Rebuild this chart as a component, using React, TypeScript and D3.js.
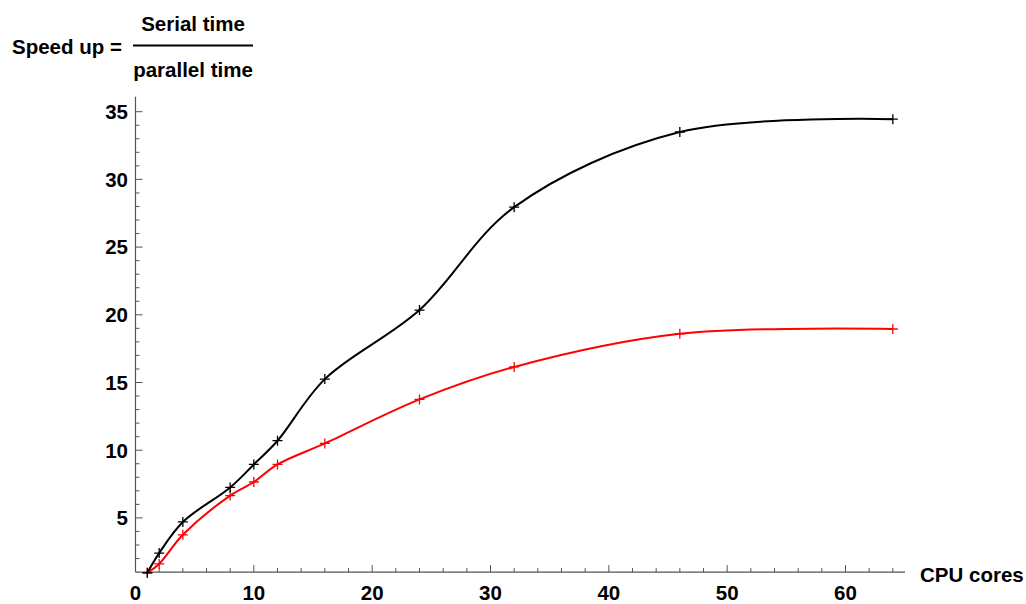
import React, { useRef, useEffect } from 'react';
import * as d3 from 'd3';

// ==================== DATA ====================
const CORES = [1, 2, 4, 8, 10, 12, 16, 24, 32, 46, 64];
const SPEEDUP_BLACK = [0.95, 2.4, 4.7, 7.25, 8.95, 10.7, 15.25, 20.35, 27.95, 33.5, 34.45];
const SPEEDUP_RED = [0.95, 1.6, 3.75, 6.65, 7.65, 8.95, 10.5, 13.75, 16.15, 18.6, 18.95];
const X_TICKS = [0, 10, 20, 30, 40, 50, 60];
const Y_TICKS = [5, 10, 15, 20, 25, 30, 35];

const COLORS = {
    black: '#000000',
    red: '#FF0000',
    axis: '#555555',
    text: '#000000'
};

const FONT = "'Liberation Sans', Arial, sans-serif";
const FS = 20.5;

const W = 1026;
const H = 604;

const App = () => {
    const svgRef = useRef<SVGSVGElement | null>(null);

    useEffect(() => {
        if (!svgRef.current) return;
        const svg = d3.select(svgRef.current);
        svg.selectAll('*').remove();

        // scales: origin of the axes sits at (0, 1)
        const x = d3.scaleLinear().domain([0, 60]).range([135.5, 845.5]);
        const y = d3.scaleLinear().domain([0, 35]).range([585.6, 111.7]);
        const yOrigin = y(1);
        const xEnd = 905;
        const yTop = y(36.1);

        const g = svg.append('g');

        // ---- axes lines ----
        g.append('line')
            .attr('x1', x(0)).attr('x2', xEnd)
            .attr('y1', yOrigin).attr('y2', yOrigin)
            .attr('stroke', COLORS.axis).attr('stroke-width', 1.2);
        g.append('line')
            .attr('x1', x(0)).attr('x2', x(0))
            .attr('y1', yOrigin).attr('y2', yTop)
            .attr('stroke', COLORS.axis).attr('stroke-width', 1.2);

        // ---- x ticks ----
        const xMinor = d3.range(0, 65, 2);
        g.selectAll('.xtick')
            .data(xMinor)
            .enter()
            .append('line')
            .attr('x1', d => x(d)).attr('x2', d => x(d))
            .attr('y1', yOrigin)
            .attr('y2', d => yOrigin - (d % 10 === 0 ? 7 : 4))
            .attr('stroke', COLORS.axis).attr('stroke-width', 1);

        g.selectAll('.xlabel')
            .data(X_TICKS)
            .enter()
            .append('text')
            .attr('x', d => x(d))
            .attr('y', 600)
            .attr('text-anchor', 'middle')
            .attr('font-family', FONT)
            .attr('font-weight', 'bold')
            .attr('font-size', FS)
            .attr('fill', COLORS.text)
            .text(d => d);

        // ---- y ticks ----
        const yMinor = d3.range(2, 36, 1);
        g.selectAll('.ytick')
            .data(yMinor)
            .enter()
            .append('line')
            .attr('x1', x(0))
            .attr('x2', d => x(0) + (d % 5 === 0 ? 7 : 4))
            .attr('y1', d => y(d)).attr('y2', d => y(d))
            .attr('stroke', COLORS.axis).attr('stroke-width', 1);

        g.selectAll('.ylabel')
            .data(Y_TICKS)
            .enter()
            .append('text')
            .attr('x', 128)
            .attr('y', d => y(d))
            .attr('dy', '0.36em')
            .attr('text-anchor', 'end')
            .attr('font-family', FONT)
            .attr('font-weight', 'bold')
            .attr('font-size', FS)
            .attr('fill', COLORS.text)
            .text(d => d);

        // ---- curves ----
        const line = d3.line<[number, number]>()
            .x(d => x(d[0]))
            .y(d => y(d[1]))
            .curve(d3.curveCatmullRom.alpha(0.5));

        const series = [
            { values: SPEEDUP_RED, color: COLORS.red },
            { values: SPEEDUP_BLACK, color: COLORS.black }
        ];

        series.forEach(s => {
            const pts: [number, number][] = CORES.map((c, i) => [c, s.values[i]]);
            g.append('path')
                .attr('d', line(pts))
                .attr('fill', 'none')
                .attr('stroke', s.color)
                .attr('stroke-width', 2);

            // plus markers
            const m = g.append('g');
            pts.forEach(p => {
                const px = x(p[0]);
                const py = y(p[1]);
                m.append('path')
                    .attr('d', `M${px - 5},${py} H${px + 5} M${px},${py - 5} V${py + 5}`)
                    .attr('stroke', s.color)
                    .attr('stroke-width', 1.3)
                    .attr('fill', 'none');
            });
        });

        // ---- axis titles ----
        g.append('text')
            .attr('x', 920).attr('y', 582)
            .attr('font-family', FONT).attr('font-weight', 'bold')
            .attr('font-size', FS).attr('fill', COLORS.text)
            .text('CPU cores');

        g.append('text')
            .attr('x', 12).attr('y', 54)
            .attr('font-family', FONT).attr('font-weight', 'bold')
            .attr('font-size', FS).attr('fill', COLORS.text)
            .text('Speed up =');
        g.append('text')
            .attr('x', 193).attr('y', 31)
            .attr('text-anchor', 'middle')
            .attr('font-family', FONT).attr('font-weight', 'bold')
            .attr('font-size', FS).attr('fill', COLORS.text)
            .text('Serial time');
        g.append('line')
            .attr('x1', 133).attr('x2', 253)
            .attr('y1', 45.5).attr('y2', 45.5)
            .attr('stroke', COLORS.text).attr('stroke-width', 2);
        g.append('text')
            .attr('x', 193).attr('y', 77)
            .attr('text-anchor', 'middle')
            .attr('font-family', FONT).attr('font-weight', 'bold')
            .attr('font-size', FS).attr('fill', COLORS.text)
            .text('parallel time');
    }, []);

    return (
        <div style={{ position: 'fixed', left: 0, top: 0, width: W, height: H, background: '#fff' }}>
            <svg ref={svgRef} width={W} height={H} style={{ display: 'block' }} />
        </div>
    );
};

export default App;
